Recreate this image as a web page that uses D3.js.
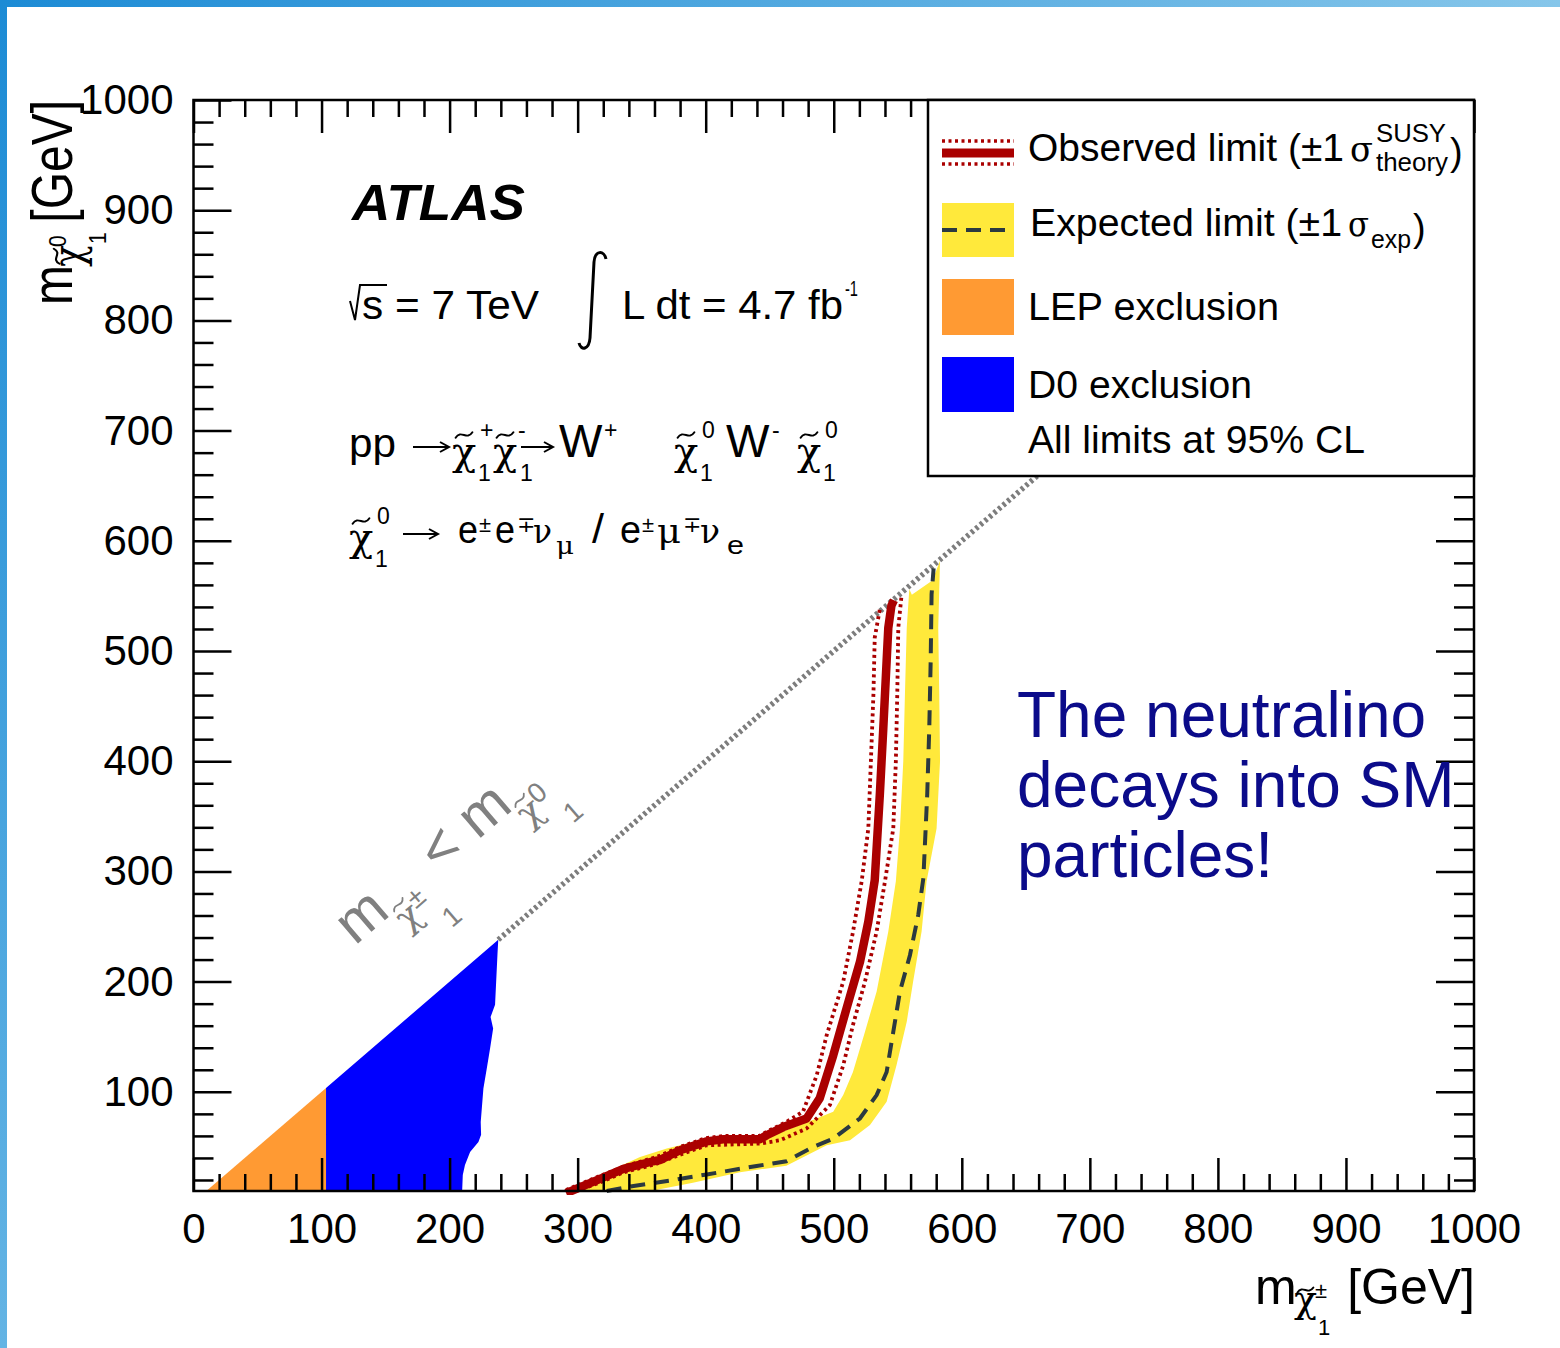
<!DOCTYPE html>
<meta charset="utf-8">
<script src="https://d3js.org/d3.v7.min.js"></script>
<style>
  body { margin: 0; background: #fff; }
  text { font-family: "Liberation Sans", Arial, Helvetica, sans-serif; }
  text.gr { font-family: "DejaVu Serif", "Liberation Serif", serif; }
</style>
<div id="my_dataviz"></div>
<script>

// ---- data (GeV) ----
var xTicks = [0, 100, 200, 300, 400, 500, 600, 700, 800, 900, 1000];
var yTicks = [100, 200, 300, 400, 500, 600, 700, 800, 900, 1000];

// LEP: chargino mass below 103.5 GeV, under the diagonal
var lepRegion = [[10, 10], [103.5, 103.5], [103.5, 10]];
// D0 exclusion: right-hand edge, from the diagonal down to the axis
var d0Edge = [[238, 238], [237.4, 225], [235.5, 179], [232, 168], [234, 157.5], [231.6, 139.4],
  [229, 121], [226.4, 103], [224.3, 72.7], [224.6, 61], [222.5, 54.5], [216, 45.5],
  [212, 33.6], [210.3, 24.5], [209.8, 10]];

var observed = [[291, 8], [317.5, 21], [335.7, 30], [359, 37], [364, 38], [380, 47], [400.8, 55],
  [413.8, 57], [442.4, 57], [447.6, 60.6], [460.6, 68], [478.8, 75.8], [489, 94], [499.6, 133],
  [510, 175.7], [520.5, 218], [527, 254.5], [532, 292], [536, 370], [538.7, 430], [541.3, 491],
  [542.6, 521], [545, 541], [547, 546]];
var obsTheoryMinus = [[291, 11], [318, 24], [338, 33], [362, 41], [380, 50], [400, 58], [415, 60],
  [442, 60], [448, 64], [462, 72], [476, 82], [486.7, 115], [494.5, 151.5], [507.4, 200],
  [515, 245], [521.8, 291], [527, 339], [529, 400], [531, 461], [532, 512], [536, 538]];
var obsTheoryPlus = [[294, 8], [318, 18], [336, 27], [360, 34], [380, 43], [400.8, 51.5],
  [442.4, 53], [458, 56], [478.8, 66.7], [486.6, 75.8], [497, 88], [507.4, 124], [515, 160.6],
  [524.4, 200], [533.5, 245.5], [540, 291], [546.5, 339], [548.5, 400], [549.6, 461],
  [550.4, 521], [553, 551]];

var expected = [[322.7, 10], [341, 14], [374.8, 20], [400.8, 25], [439.8, 32.7], [463, 37],
  [484, 50], [499.6, 57.5], [520.4, 75.8], [533.5, 97], [541.3, 118], [546.5, 154.5],
  [551.7, 191], [559.5, 224], [566, 260.6], [570, 294], [573, 370], [574.6, 430],
  [575.7, 491], [576.4, 551.5], [578, 575]];
var expBandLow = [[296.7, 10], [322.7, 27], [348.7, 40.9], [369.6, 48.5], [400.8, 57.5],
  [426.8, 59], [452.8, 60.6], [486.6, 75.8], [499.6, 82], [507.4, 97], [515, 118],
  [524.4, 154.5], [533.5, 191], [542.6, 245.5], [548.5, 291], [551.7, 339], [554.3, 400],
  [555.6, 461], [557, 521], [559, 556], [561, 551], [577, 564]];
var expBandHigh = [[360, 10], [364, 11.5], [390, 17.5], [426.8, 27], [463, 33], [494.5, 51.5],
  [512.7, 56], [528.3, 70], [541.3, 91], [549, 124], [557, 163.6], [562, 200], [568.6, 245.5],
  [572.5, 291], [580.3, 339], [583, 400], [582.4, 461], [581.6, 521], [583, 582]];

var diagonal = [[238, 238], [1000, 1000]];

var legendLabels = ["LEP exclusion", "D0 exclusion", "All limits at 95% CL"];
var noteLines = ["The neutralino", "decays into SM", "particles!"];

// ---- page ----
var W = 1560, H = 1348;
var svg = d3.select("#my_dataviz").append("svg")
  .attr("width", W).attr("height", H);

var defs = svg.append("defs");
var gTop = defs.append("linearGradient").attr("id", "gTop");
gTop.append("stop").attr("offset", 0).attr("stop-color", "#1c8bd5");
gTop.append("stop").attr("offset", 1).attr("stop-color", "#86c6ea");
var gLeft = defs.append("linearGradient").attr("id", "gLeft")
  .attr("x1", 0).attr("y1", 0).attr("x2", 0).attr("y2", 1);
gLeft.append("stop").attr("offset", 0).attr("stop-color", "#1c8bd5");
gLeft.append("stop").attr("offset", 1).attr("stop-color", "#64b4e4");
svg.append("rect").attr("x", 0).attr("y", 0).attr("width", W).attr("height", 7).attr("fill", "url(#gTop)");
svg.append("rect").attr("x", 0).attr("y", 0).attr("width", 7).attr("height", H).attr("fill", "url(#gLeft)");

var x = d3.scaleLinear().domain([0, 1000]).range([193.5, 1474]);
var y = d3.scaleLinear().domain([10, 1000]).range([1191, 100]);

defs.append("clipPath").attr("id", "plotclip").append("rect")
  .attr("x", x(0)).attr("y", y(1000)).attr("width", x(1000) - x(0)).attr("height", y(10) - y(1000) + 4);

var plot = svg.append("g").attr("clip-path", "url(#plotclip)");
var line = d3.line().x(function(d) { return x(d[0]); }).y(function(d) { return y(d[1]); });

// fills
plot.append("path").attr("d", line(lepRegion) + "Z").attr("fill", "#ff9a33");
plot.append("path").attr("d", line([[103.5, 103.5]].concat(d0Edge, [[103.5, 10]])) + "Z").attr("fill", "#0000ff");
plot.append("path").attr("d", line(expBandLow.concat(expBandHigh.slice().reverse())) + "Z").attr("fill", "#ffe93b");

// kinematic diagonal
plot.append("path").attr("d", line(diagonal)).attr("fill", "none")
  .attr("stroke", "#7d7d7d").attr("stroke-width", 5.5).attr("stroke-dasharray", "3,3");

// expected and observed limits
plot.append("path").attr("d", line(expected)).attr("fill", "none")
  .attr("stroke", "#2b3940").attr("stroke-width", 4).attr("stroke-dasharray", "15,9");
[obsTheoryMinus, obsTheoryPlus].forEach(function(c) {
  plot.append("path").attr("d", line(c)).attr("fill", "none")
    .attr("stroke", "#aa0000").attr("stroke-width", 3.8).attr("stroke-dasharray", "3,3.5");
});
plot.append("path").attr("d", line(observed)).attr("fill", "none")
  .attr("stroke", "#aa0000").attr("stroke-width", 8.5).attr("stroke-linejoin", "round");

// axes (ticks pointing inwards on all four sides)
var xMinor = d3.range(0, 1001, 20).filter(function(v) { return v % 100 !== 0; });
var yMinor = d3.range(20, 1000, 20).filter(function(v) { return v % 100 !== 0; });

function addAxis(axis, tr, labels) {
  var g = svg.append("g").attr("transform", tr).call(axis);
  g.select(".domain").remove();
  g.selectAll("line").attr("stroke", "#000").attr("stroke-width", 2.5);
  g.selectAll("text").attr("font-size", 42).attr("fill", "#000")
    .attr("font-family", "'Liberation Sans', Arial, sans-serif");
  if (!labels) g.selectAll("text").remove();
  return g;
}
addAxis(d3.axisBottom(x).tickValues(xTicks).tickSizeInner(-33).tickSizeOuter(0).tickPadding(22).tickFormat(d3.format("d")),
  "translate(0," + y(10) + ")", true);
addAxis(d3.axisBottom(x).tickValues(xMinor).tickSizeInner(-17).tickSizeOuter(0), "translate(0," + y(10) + ")", false);
addAxis(d3.axisTop(x).tickValues(xTicks).tickSizeInner(-33).tickSizeOuter(0), "translate(0," + y(1000) + ")", false);
addAxis(d3.axisTop(x).tickValues(xMinor).tickSizeInner(-17).tickSizeOuter(0), "translate(0," + y(1000) + ")", false);
addAxis(d3.axisLeft(y).tickValues(yTicks).tickSizeInner(-38).tickSizeOuter(0).tickPadding(20).tickFormat(d3.format("d")),
  "translate(" + x(0) + ",0)", true);
addAxis(d3.axisLeft(y).tickValues(yMinor).tickSizeInner(-20).tickSizeOuter(0), "translate(" + x(0) + ",0)", false);
addAxis(d3.axisRight(y).tickValues(yTicks).tickSizeInner(-38).tickSizeOuter(0), "translate(" + x(1000) + ",0)", false);
addAxis(d3.axisRight(y).tickValues(yMinor).tickSizeInner(-20).tickSizeOuter(0), "translate(" + x(1000) + ",0)", false);

svg.append("rect").attr("x", x(0)).attr("y", y(1000))
  .attr("width", x(1000) - x(0)).attr("height", y(10) - y(1000))
  .attr("fill", "none").attr("stroke", "#000").attr("stroke-width", 2.5);

// ---- text helpers ----
// w: if given, the text is fitted to that width
function tx(g, px, py, str, size, color, w, cls) {
  var t = g.append("text").attr("x", px).attr("y", py).attr("font-size", size)
    .attr("fill", color || "#000").text(str);
  if (w) t.attr("textLength", w).attr("lengthAdjust", "spacingAndGlyphs");
  if (cls) t.attr("class", cls);
  return t;
}
function tilde(g, cx, cy, w, color, sw) {
  var h = w * 0.16;
  g.append("path")
    .attr("d", "M" + (cx - w / 2) + "," + (cy + h) + " C" + (cx - w / 6) + "," + (cy - 2.2 * h) + " " +
      (cx + w / 6) + "," + (cy + 2.2 * h) + " " + (cx + w / 2) + "," + (cy - h))
    .attr("fill", "none").attr("stroke", color).attr("stroke-width", sw).attr("stroke-linecap", "round");
}
function arrow(g, x0, x1, yy) {
  g.append("path")
    .attr("d", "M" + x0 + "," + yy + " H" + x1 + " M" + (x1 - 9) + "," + (yy - 5) + " L" + x1 + "," + yy + " L" + (x1 - 9) + "," + (yy + 5))
    .attr("fill", "none").attr("stroke", "#000").attr("stroke-width", 2);
}
// chi with tilde and scripts; o holds offsets relative to baseline b
function chi(g, px, b, o, sup, sub, color) {
  color = color || "#000";
  tx(g, px, b + o.dy, "\u03c7", o.c, color, null, "gr");
  tilde(g, px + o.c * 0.3, b + o.ty, o.c * 0.42, color, Math.max(1.6, o.c * 0.05));
  if (sup) tx(g, px + o.px, b + o.py, sup, o.ss, color);
  if (sub) tx(g, px + o.bx, b + o.by, sub, o.ss, color);
}

var ann = svg.append("g");

// ATLAS label
tx(ann, 352, 220, "ATLAS", 50, "#000", 173).attr("font-weight", "bold").attr("font-style", "italic");

// sqrt(s) and integrated luminosity
ann.append("path").attr("d", "M350,301 L355,320 L360,285 L387,285")
  .attr("fill", "none").attr("stroke", "#000").attr("stroke-width", 2);
tx(ann, 362, 319, "s = 7 TeV", 41, "#000", 177);
ann.append("path").attr("d", "M606,259 C604,250 595,250 594,262 L590,338 C589,350 581,351 579,343")
  .attr("fill", "none").attr("stroke", "#000").attr("stroke-width", 3);
tx(ann, 622, 319, "L dt = 4.7 fb", 41, "#000", 221);
tx(ann, 845, 296, "-1", 22, "#000", 13);

// process
var inl = {c: 40, dy: 8, ty: -22, py: -19, by: 24, px: 28, bx: 26, ss: 23};
var b1 = 457;
tx(ann, 349, b1, "pp", 41, "#000", 47);
arrow(ann, 413, 449, b1 - 10);
chi(ann, 452, b1, inl, "+", "1");
chi(ann, 493, b1, {c: 40, dy: 8, ty: -22, py: -19, by: 24, px: 25, bx: 27, ss: 23}, "-", "1");
arrow(ann, 521, 553, b1 - 10);
tx(ann, 559, b1, "W", 46);
tx(ann, 604, b1 - 19, "+", 23);
chi(ann, 674, b1, inl, "0", "1");
tx(ann, 726, b1, "W", 46);
tx(ann, 772, b1 - 19, "-", 23);
chi(ann, 797, b1, inl, "0", "1");

var b2 = 543;
chi(ann, 349, b2, inl, "0", "1");
arrow(ann, 403, 438, b2 - 9);
tx(ann, 458, b2, "e", 38, "#000", 20);
tx(ann, 479, b2 - 11, "\u00b1", 22);
tx(ann, 495, b2, "e", 38, "#000", 20);
tx(ann, 517, b2 - 11, "\u2213", 22);
tx(ann, 533, b2, "\u03bd", 34, "#000", 19, "gr");
tx(ann, 556, b2 + 11, "\u03bc", 24, "#000", 18, "gr");
tx(ann, 592, b2, "/", 40, "#000", 12);
tx(ann, 620, b2, "e", 38, "#000", 21);
tx(ann, 642, b2 - 11, "\u00b1", 22);
tx(ann, 657, b2, "\u03bc", 34, "#000", 24, "gr");
tx(ann, 683, b2 - 11, "\u2213", 22);
tx(ann, 700, b2, "\u03bd", 34, "#000", 20, "gr");
tx(ann, 727, b2 + 11, "e", 26, "#000", 17);

// slanted kinematic label along the diagonal
var ang = -Math.atan((y(0) - y(100)) / (x(100) - x(0))) * 180 / Math.PI;
var sl = svg.append("g").attr("transform", "translate(355,946) rotate(" + ang + ")");
var slo = {c: 36, dy: 24, ty: -3, py: 12, by: 50, px: 21, bx: 36, ss: 28};
tx(sl, 0, 0, "m", 58, "#808080");
chi(sl, 49, 0, slo, "\u00b1", "1", "#808080");
tx(sl, 111, 0, "<", 58, "#808080");
tx(sl, 162, 0, "m", 58, "#808080");
chi(sl, 209, 0, slo, "0", "1", "#808080");

// axis titles
var axo = {c: 38, dy: 8, ty: -14, py: -6, by: 31, px: 21, bx: 24, ss: 22};
tx(svg, 1255, 1304, "m", 50);
chi(svg, 1294, 1304, axo, "\u00b1", "1");
tx(svg, 1475, 1304, "[GeV]", 50).attr("text-anchor", "end");

var yt = svg.append("g").attr("transform", "translate(72,0) rotate(-90) scale(1,1.18)");
tx(yt, -305, 0, "m", 48);
chi(yt, -267, 0, {c: 36, dy: 9, ty: -13, py: -5, by: 29, px: 20, bx: 23, ss: 21}, "0", "1");
tx(yt, -100, 0, "[GeV]", 48).attr("text-anchor", "end");

// ---- legend ----
var lg = svg.append("g");
lg.append("rect").attr("x", 928).attr("y", 100).attr("width", 546).attr("height", 376)
  .attr("fill", "#fff").attr("stroke", "#000").attr("stroke-width", 2.5);
lg.append("line").attr("x1", 942).attr("x2", 1014).attr("y1", 153).attr("y2", 153)
  .attr("stroke", "#aa0000").attr("stroke-width", 9);
[141, 164].forEach(function(yy) {
  lg.append("line").attr("x1", 942).attr("x2", 1014).attr("y1", yy).attr("y2", yy)
    .attr("stroke", "#aa0000").attr("stroke-width", 3.5).attr("stroke-dasharray", "3,3.5");
});
lg.append("rect").attr("x", 942).attr("y", 203).attr("width", 72).attr("height", 54).attr("fill", "#ffe93b");
lg.append("line").attr("x1", 942).attr("x2", 1014).attr("y1", 230).attr("y2", 230)
  .attr("stroke", "#2b3940").attr("stroke-width", 4).attr("stroke-dasharray", "15,9");
lg.append("rect").attr("x", 942).attr("y", 279).attr("width", 72).attr("height", 56).attr("fill", "#ff9a33");
lg.append("rect").attr("x", 942).attr("y", 357).attr("width", 72).attr("height", 55).attr("fill", "#0000ff");

tx(lg, 1028, 161, "Observed limit (\u00b11", 38, "#000", 316);
tx(lg, 1350, 161, "\u03c3", 36, "#000", 23, "gr");
tx(lg, 1376, 142, "SUSY", 26, "#000", 70);
tx(lg, 1376, 171, "theory", 26, "#000", 72);
tx(lg, 1450, 165, ")", 38);
tx(lg, 1030, 236, "Expected limit (\u00b11", 38, "#000", 312);
tx(lg, 1348, 236, "\u03c3", 36, "#000", 21, "gr");
tx(lg, 1371, 248, "exp", 25, "#000", 40);
tx(lg, 1413, 241, ")", 38);
tx(lg, 1028, 320, legendLabels[0], 38, "#000", 251);
tx(lg, 1028, 398, legendLabels[1], 38, "#000", 224);
tx(lg, 1028, 453, legendLabels[2], 38, "#000", 337);

// ---- slide note ----
noteLines.forEach(function(s, i) {
  tx(svg, 1017, 737 + i * 70, s, 64, "#0b0b8a");
});
</script>
